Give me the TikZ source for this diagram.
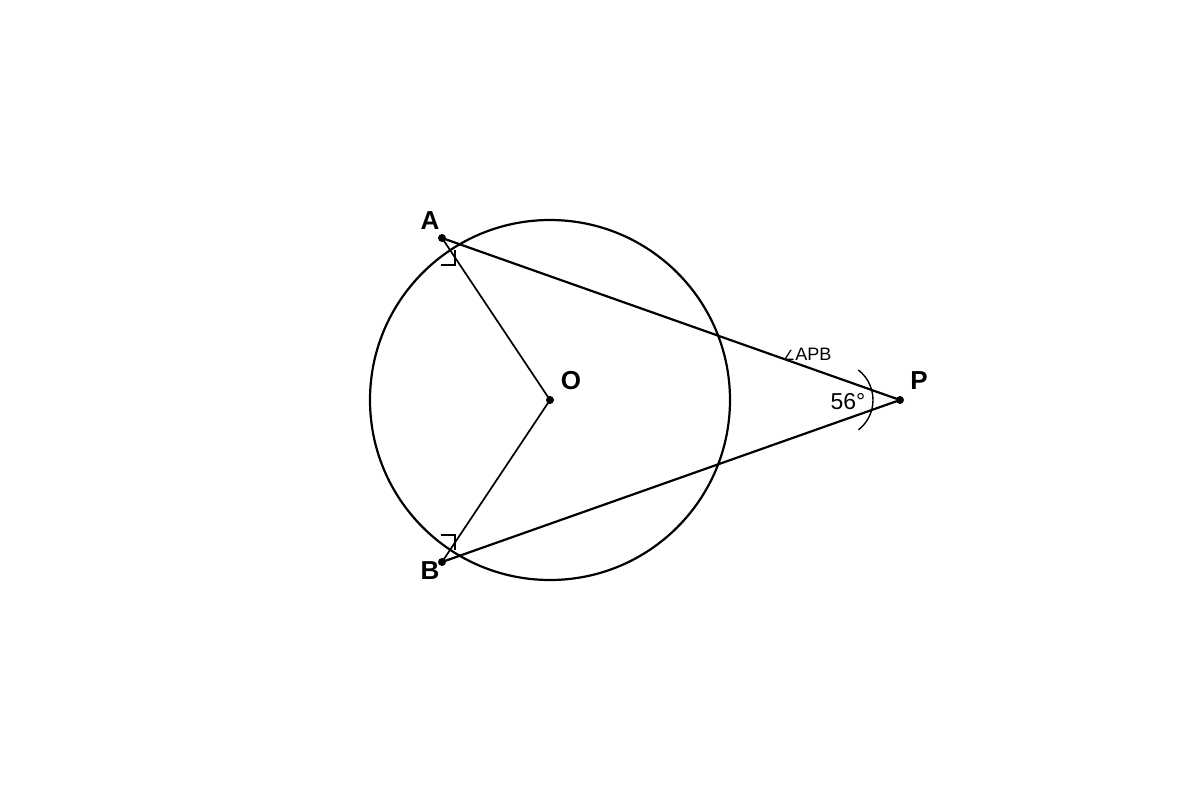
\documentclass[tikz,border=0pt]{standalone}
\usepackage{fontspec}
\setmainfont{Liberation Sans}
\newfontfamily\symfont{DejaVu Sans}
\begin{document}
\begin{tikzpicture}[x=1pt,y=-1pt,
  thick line/.style={line width=2.2pt},
  thin line/.style={line width=1.7pt},
  mark line/.style={line width=1.4pt},
  pt label/.style={font=\fontsize{26}{26}\selectfont\bfseries, inner sep=0pt},
  dot/.style={circle, fill=black, inner sep=0pt, minimum size=8pt}]
\useasboundingbox[fill=white] (0,0) rectangle (1200,800);
\coordinate (O) at (550,400);
\coordinate (A) at (442,238);
\coordinate (B) at (442,562);
\coordinate (P) at (900,400);
\draw[thick line] (O) circle[radius=180];
\draw[thin line] (A) -- (O) -- (B);
\draw[thick line] (A) -- (P) -- (B);
\draw[mark line] (441,265) -- (455,265) -- (455,250);
\draw[mark line] (441,535) -- (455,535) -- (455,550);
\draw[mark line] (858.4,370) arc[start angle=-52, end angle=52, radius=38];
\node[dot] (dA) at (A) {};
\node[dot] (dB) at (B) {};
\node[dot] (dO) at (O) {};
\node[dot] (dP) at (P) {};
\node[pt label] (lA) at (430,221) {A};
\node[pt label] (lB) at (430,571) {B};
\node[pt label] (lO) at (571,381) {O};
\node[pt label] (lP) at (919,381) {P};
\node[font=\fontsize{23}{23}\selectfont, inner sep=0pt] (ang) at (848,402) {56°};
\node[font=\fontsize{18}{18}\selectfont, inner sep=0pt] (apb) at (807,354) {{\symfont\fontsize{14}{14}\selectfont ∠}APB};
\end{tikzpicture}
\end{document}
